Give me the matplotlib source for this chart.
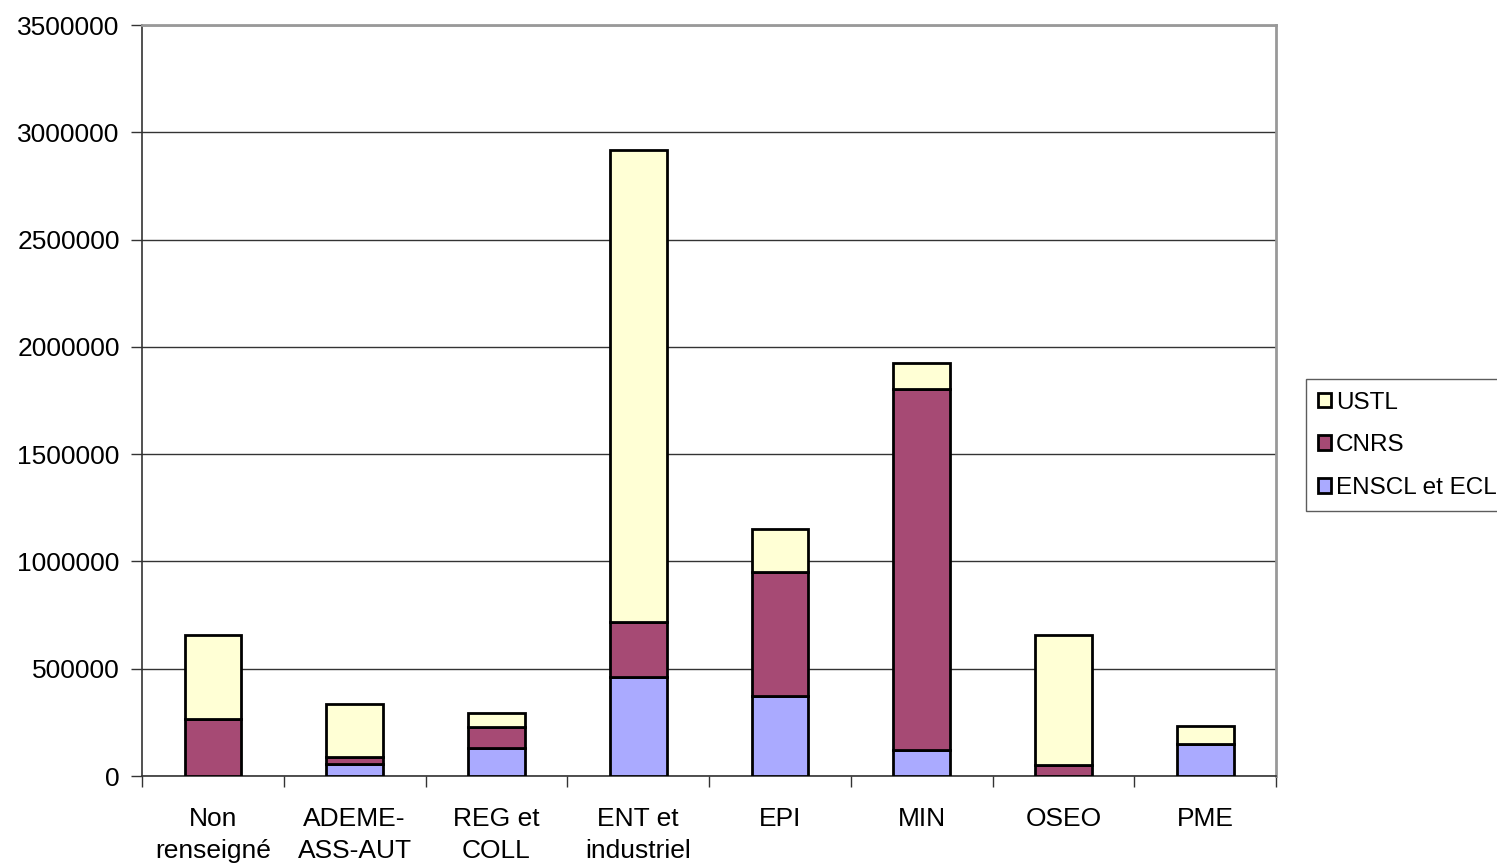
import matplotlib
matplotlib.use('Agg')
import matplotlib.pyplot as plt
import numpy as np

plt.rcParams['font.family'] = ['Liberation Sans', 'DejaVu Sans']

categories = ['Non\nrenseigné', 'ADEME-\nASS-AUT', 'REG et\nCOLL', 'ENT et\nindustriel',
              'EPI', 'MIN', 'OSEO', 'PME']
enscl = [0, 56000, 131000, 463000, 374000, 121000, 0, 150000]
cnrs = [266000, 33000, 98000, 257000, 579000, 1683000, 51000, 0]
ustl = [393000, 247000, 65000, 2196000, 197000, 121000, 608000, 84000]

fig = plt.figure(figsize=(14.97, 8.63), dpi=100)
ax = fig.add_axes([0.0949, 0.1008, 0.7575, 0.8702])

x = np.arange(len(categories))
w = 0.40
kw = dict(width=w, edgecolor='black', linewidth=2, zorder=3)
b1 = ax.bar(x, enscl, color='#AAAAFF', label='ENSCL et ECL', **kw)
b2 = ax.bar(x, cnrs, bottom=enscl, color='#A64A74', label='CNRS', **kw)
bottom2 = np.array(enscl) + np.array(cnrs)
b3 = ax.bar(x, ustl, bottom=bottom2, color='#FFFFD5', label='USTL', **kw)

ax.set_xlim(-0.5, len(categories) - 0.5)
ax.set_ylim(0, 3500000)
ax.set_yticks(np.arange(0, 3500001, 500000))
ax.set_yticklabels([str(v) for v in range(0, 3500001, 500000)], fontsize=19)
ax.yaxis.grid(True, color='#333333', linewidth=1, zorder=0)
ax.tick_params(axis='y', direction='out', length=8, width=1, color='#333333', pad=8)

ax.set_xticks(x)
ax.set_xticklabels(categories, fontsize=19, linespacing=1.42)
ax.tick_params(axis='x', which='major', length=0, pad=22)
ax.set_xticks(np.arange(-0.5, len(categories)), minor=True)
ax.tick_params(axis='x', which='minor', direction='out', length=8, width=1, color='#333333')

for s in ['left', 'bottom']:
    ax.spines[s].set_color('#333333')
    ax.spines[s].set_linewidth(1.2)
for s in ['top', 'right']:
    ax.spines[s].set_color('#999999')
    ax.spines[s].set_linewidth(2)

leg = ax.legend(handles=[b3, b2, b1], loc='upper left', bbox_to_anchor=(1.026, 0.528),
                fontsize=17.5, frameon=True, fancybox=False, handlelength=0.55,
                handleheight=0.55, handletextpad=0.2, labelspacing=0.85,
                borderpad=0.5, borderaxespad=0)
leg.get_frame().set_edgecolor('#333333')
leg.get_frame().set_linewidth(1)
for h in leg.legend_handles:
    h.set_linewidth(2)

fig.savefig('out.png', dpi=100)
